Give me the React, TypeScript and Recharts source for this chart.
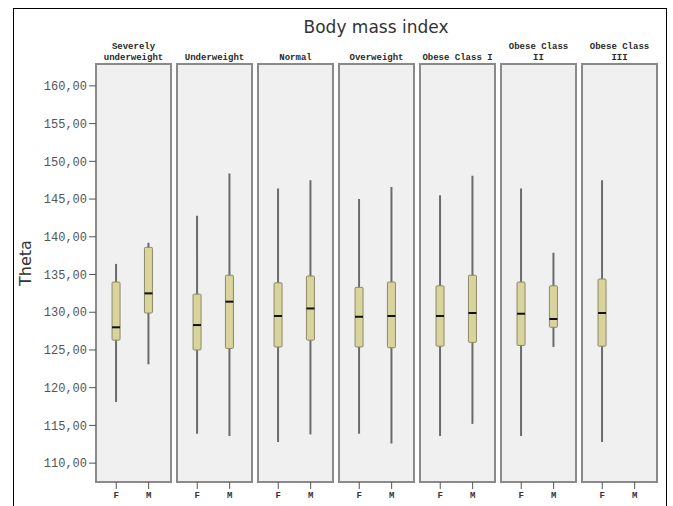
import {
  ComposedChart,
  Bar,
  XAxis,
  YAxis,
  ReferenceArea,
} from "recharts";

// BMI groups (header lines) and sexes inside each panel
const groupLines = [
  ["Severely", "underweight"],
  ["Underweight"],
  ["Normal"],
  ["Overweight"],
  ["Obese Class I"],
  ["Obese Class", "II"],
  ["Obese Class", "III"],
];
const sexes = ["F", "M"];

// boxplot stats, order: group1 F, group1 M, group2 F, ... (null = no data)
const whiskerLow = [118.1, 123.1, 113.9, 113.6, 112.8, 113.8, 113.9, 112.6, 113.6, 115.2, 113.6, 125.4, 112.8, null];
const quart1 = [126.3, 129.9, 125.0, 125.2, 125.4, 126.3, 125.4, 125.3, 125.5, 126.0, 125.6, 128.0, 125.5, null];
const medians = [128.0, 132.5, 128.3, 131.4, 129.5, 130.5, 129.4, 129.5, 129.5, 129.9, 129.8, 129.1, 129.9, null];
const quart3 = [134.0, 138.6, 132.4, 134.9, 133.9, 134.8, 133.3, 134.0, 133.5, 134.9, 134.0, 133.5, 134.4, null];
const whiskerHigh = [136.4, 139.2, 142.8, 148.4, 146.4, 147.5, 145.0, 146.6, 145.5, 148.1, 146.4, 137.9, 147.5, null];

const yTicks = [110, 115, 120, 125, 130, 135, 140, 145, 150, 155, 160];

const PANEL_W = 0.926;
const SEX_POS = [0.25, 0.65];
const Y_MIN = 107.5;
const Y_MAX = 162.9;

const rows = [];
groupLines.forEach((_, g) => {
  sexes.forEach((s, j) => {
    const i = g * 2 + j;
    if (whiskerLow[i] == null) return;
    rows.push({
      x: g + SEX_POS[j],
      sex: s,
      range: [whiskerLow[i], whiskerHigh[i]],
      lo: whiskerLow[i],
      q1: quart1[i],
      med: medians[i],
      q3: quart3[i],
      hi: whiskerHigh[i],
    });
  });
});

const xTicks = [];
groupLines.forEach((_, g) => SEX_POS.forEach((p) => xTicks.push(g + p)));

const BoxShape = (props: any) => {
  const { x, y, width, height, payload } = props;
  if (!payload || height == null) return null;
  const top = Math.min(y, y + height);
  const h = Math.abs(height);
  const k = h / (payload.hi - payload.lo);
  const toY = (v: number) => top + (payload.hi - v) * k;
  const cx = x + width / 2;
  const bw = 8;
  return (
    <g>
      <line x1={cx} x2={cx} y1={top} y2={top + h} stroke="#6b6b6b" strokeWidth={2} />
      <rect
        x={cx - bw / 2}
        y={toY(payload.q3)}
        width={bw}
        height={toY(payload.q1) - toY(payload.q3)}
        fill="#d8d49c"
        stroke="#8c8a68"
        strokeWidth={1}
        rx={1}
      />
      <line
        x1={cx - bw / 2}
        x2={cx + bw / 2}
        y1={toY(payload.med)}
        y2={toY(payload.med)}
        stroke="#111"
        strokeWidth={2}
      />
    </g>
  );
};

const PanelHeader = ({ viewBox, lines }: any) => {
  if (!viewBox) return null;
  const cx = viewBox.x + viewBox.width / 2;
  const baseY = 60;
  return (
    <text
      x={cx}
      textAnchor="middle"
      fontFamily="Liberation Mono"
      fontSize={9}
      fontWeight="bold"
      fill="#2a2a2a"
    >
      {lines.map((l: string, i: number) => (
        <tspan key={i} x={cx} y={baseY - (lines.length - 1 - i) * 11}>
          {l}
        </tspan>
      ))}
    </text>
  );
};

const ThetaLabel = () => (
  <text
    x={31}
    y={263}
    transform="rotate(-90 31 263)"
    textAnchor="middle"
    fontFamily="DejaVu Sans"
    fontSize={16}
    fill="#333"
  >
    Theta
  </text>
);

export default function App() {
  return (
    <div style={{ position: "absolute", left: 0, top: 0, width: 673, height: 506, overflow: "hidden", background: "#fff" }}>
      <div
        style={{
          position: "absolute",
          left: 13,
          top: 8,
          width: 652,
          height: 520,
          border: "1.5px solid #000",
        }}
      />
      <div
        style={{
          position: "absolute",
          left: 0,
          width: 752,
          top: 17,
          textAlign: "center",
          fontFamily: "DejaVu Sans",
          fontSize: 17,
          color: "#333",
        }}
      >
        Body mass index
      </div>
      <div style={{ position: "absolute", left: 0, top: 0 }}>
        <ComposedChart
          width={673}
          height={506}
          data={rows}
          margin={{ top: 64, right: 16, bottom: 4, left: 0 }}
        >
          <XAxis
            type="number"
            dataKey="x"
            domain={[0, 6 + PANEL_W]}
            ticks={xTicks}
            tickFormatter={(v: number) => (v - Math.floor(v) < 0.5 ? "F" : "M")}
            axisLine={false}
            tickLine={{ stroke: "#555" }}
            tickSize={7}
            tickMargin={3}
            height={20}
            interval={0}
            tick={{ fontFamily: "Liberation Mono", fontSize: 9, fontWeight: "bold", fill: "#333" }}
          />
          <YAxis
            type="number"
            domain={[Y_MIN, Y_MAX]}
            ticks={yTicks}
            allowDataOverflow
            width={96}
            axisLine={false}
            tickLine={{ stroke: "#555" }}
            tickSize={7}
            tickMargin={2}
            interval={0}
            tickFormatter={(v: number) => v.toFixed(2).replace(".", ",")}
            tick={{ fontFamily: "Liberation Mono", fontSize: 12, fill: "#555" }}
            label={{ content: <ThetaLabel /> }}
          />
          {groupLines.map((lines, g) => (
            <ReferenceArea
              key={g}
              x1={g}
              x2={g + PANEL_W}
              y1={Y_MIN}
              y2={Y_MAX}
              fill="#f0f0f0"
              fillOpacity={1}
              stroke="#8a8a8a"
              strokeWidth={2}
              label={{ content: <PanelHeader lines={lines} /> }}
            />
          ))}
          <Bar dataKey="range" barSize={10} shape={<BoxShape />} isAnimationActive={false} />
        </ComposedChart>
      </div>
    </div>
  );
}
